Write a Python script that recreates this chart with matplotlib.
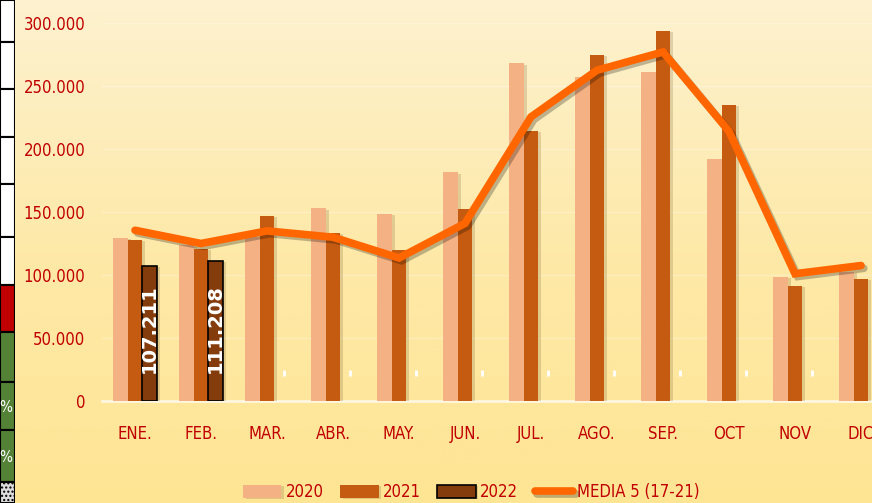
import numpy as np
import matplotlib
matplotlib.use("Agg")
import matplotlib.pyplot as plt
import matplotlib.patheffects as pe
from matplotlib.patches import Rectangle
from matplotlib.colors import LinearSegmentedColormap

# Data
meses = ["ENE.", "FEB.", "MAR.", "ABR.", "MAY.", "JUN.", "JUL.",
         "AGO.", "SEP.", "OCT", "NOV", "DIC"]
v2020 = [129500, 123500, 130000, 153000, 148500, 181500, 268000,
         257500, 261500, 192000, 98500, 102500]
v2021 = [127800, 121000, 146800, 133300, 119500, 152000, 214300,
         274600, 293600, 234900, 91500, 96800]
v2022 = [107211, 111208]
media5 = [135500, 125000, 135000, 130000, 113500, 141000, 225500,
          262500, 277000, 214000, 101000, 107500]
yticks = [0, 50000, 100000, 150000, 200000, 250000, 300000]
ytick_labels = ["0", "50.000", "100.000", "150.000", "200.000",
                "250.000", "300.000"]

c2020 = "#F4B183"
c2021 = "#C55A11"
c2022 = "#843C0C"
cline = "#FF6600"
ctext = "#C00000"

plt.rcParams["font.family"] = ["DejaVu Sans"]
plt.rcParams["font.stretch"] = "condensed"

fig = plt.figure(figsize=(8.72, 5.03), dpi=100)

# background gradient for the whole figure
bg = fig.add_axes([0, 0, 1, 1], zorder=-10)
grad = np.linspace(0, 1, 256).reshape(-1, 1)
bgcmap = LinearSegmentedColormap.from_list("bg", ["#FDF2D0", "#FEE9A8", "#FEE594"])
bg.imshow(grad, aspect="auto", cmap=bgcmap, extent=[0, 1, 0, 1], origin="upper")
bg.set_axis_off()

# leftover spreadsheet cells on the left edge
strip = fig.add_axes([0, 0, 15 / 872, 1], zorder=-5)
strip.set_xlim(0, 1)
strip.set_ylim(503, 0)
strip.set_axis_off()
cells = [(0, 42, "white"), (42, 89, "white"), (89, 137, "white"),
         (137, 184, "white"), (184, 237, "white"), (237, 285, "white"),
         (285, 332, "#C00000"), (332, 382, "#538135"),
         (382, 430, "#538135"), (430, 482, "#538135"), (482, 503, "#DDDDDD")]
for y0, y1, col in cells:
    strip.add_patch(Rectangle((0, y0), 1, y1 - y0, facecolor=col,
                              edgecolor="black", linewidth=1.5,
                              hatch="...." if col == "#DDDDDD" else None))
for yy in (408, 458):
    strip.text(0.4, yy, "%", color="white", fontsize=11, ha="center", va="center")

ax = fig.add_axes([102 / 872, 102 / 503, 792 / 872, 378 / 503])
ax.set_facecolor("none")
x = np.arange(len(meses))
w = 0.22

shadow = [pe.SimplePatchShadow(offset=(2, -1), shadow_rgbFace="#8a7040", alpha=0.25),
          pe.Normal()]
b1 = ax.bar(x - w, v2020, w, color=c2020, label="2020", zorder=3)
b2 = ax.bar(x, v2021, w, color=c2021, label="2021", zorder=3)
b3 = ax.bar(x[:len(v2022)] + w, v2022, w, color=c2022, edgecolor="black",
            linewidth=1.2, label="2022", zorder=3)
for bars in (b1, b2, b3):
    for b in bars:
        b.set_path_effects(shadow)

for xi, val in zip(x[:len(v2022)], v2022):
    ax.text(xi + w, 22000, f"{val:,}".replace(",", "."), rotation=90,
            ha="center", va="bottom", color="white", fontsize=14,
            fontweight="bold", fontstretch="normal", zorder=5)

# tiny white labels of the empty 2022 months
ax.vlines(x[len(v2022):] + w + 0.03, 20000, 25000, color="white", linewidth=2, zorder=4)

ax.plot(x, media5, color=cline, linewidth=5.5, solid_capstyle="round",
        solid_joinstyle="miter", label="MEDIA 5 (17-21)", zorder=4,
        path_effects=[pe.SimpleLineShadow(offset=(2, -2), alpha=0.25), pe.Normal()])

ax.set_xlim(-0.5, 11.5)
ax.set_ylim(0, 300000)
ax.set_yticks(yticks)
ax.set_yticklabels(ytick_labels)
ax.set_xticks(x)
ax.set_xticklabels(meses)
ax.tick_params(axis="both", length=0, colors=ctext, labelsize=12)
ax.tick_params(axis="y", pad=12)
ax.tick_params(axis="x", pad=17)
for s in ("top", "right", "left"):
    ax.spines[s].set_visible(False)
ax.spines["bottom"].set_color("#FFF6E0")
ax.spines["bottom"].set_linewidth(2)
ax.set_axisbelow(True)
ax.grid(axis="y", color="white", alpha=0.25, linewidth=1)

leg = fig.legend(handles=[b1, b2, b3, ax.lines[0]], loc="center left",
                 bbox_to_anchor=(228 / 872, 1 - 492 / 503), ncol=4, frameon=False,
                 fontsize=12, labelcolor=ctext, handlelength=2.3,
                 handleheight=0.84, columnspacing=1.0, handletextpad=0.25)

fig.savefig("out.png", dpi=100)
